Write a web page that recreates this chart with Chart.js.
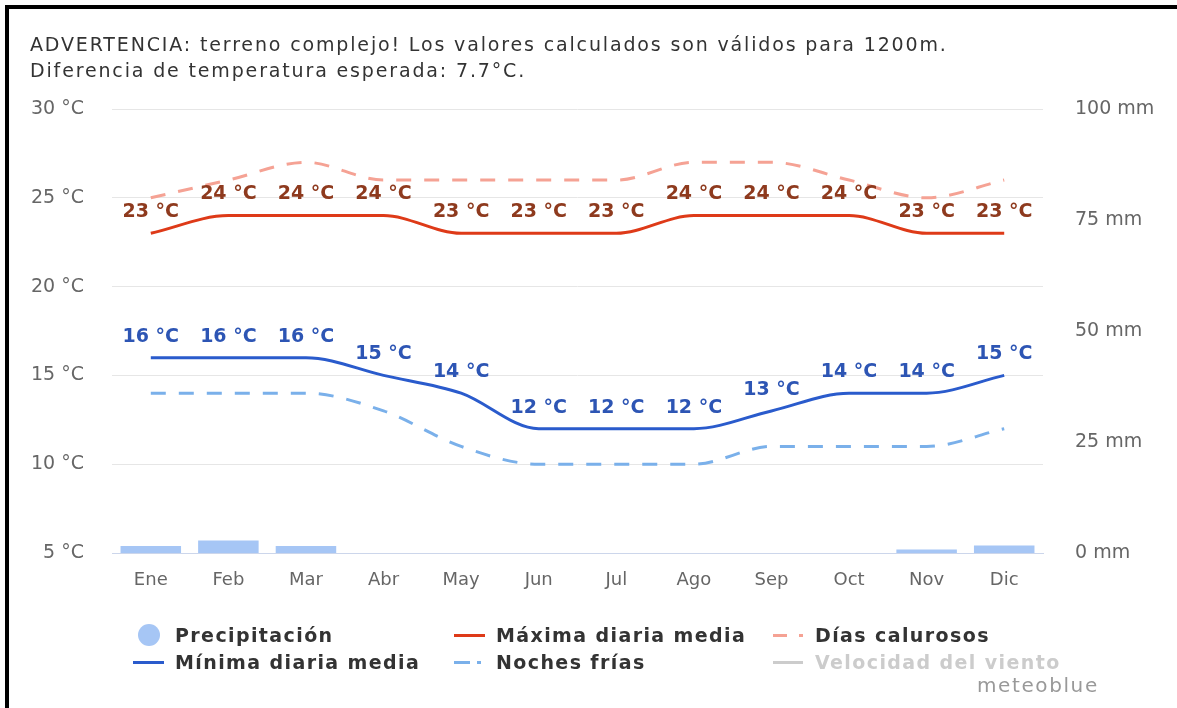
<!DOCTYPE html>
<html>
<head>
<meta charset="utf-8">
<script src="https://cdn.jsdelivr.net/npm/chart.js@4.4.0/dist/chart.umd.min.js"></script>
<style>
body { margin: 0; background: #fff; font-family: "DejaVu Sans", sans-serif; }
#wrap { position: relative; width: 1177px; height: 708px; overflow: hidden; }
#chart { position: absolute; left: 0; top: 0; }
#frame { position: absolute; left: 5px; top: 5px; width: 1300px; height: 900px;
  border-left: 4px solid #000; border-top: 4px solid #000; pointer-events: none; }
#title { position: absolute; left: 30px; top: 31px; color: #333; font-size: 19px;
  line-height: 26px; letter-spacing: 1.85px; white-space: nowrap; }
.lg { position: absolute; font-size: 19px; font-weight: bold; color: #333; white-space: nowrap;
  line-height: 22px; letter-spacing: 1.4px; }
.sym { position: absolute; }
#credit { position: absolute; left: 977px; top: 673px; font-size: 20px; color: #999; letter-spacing: 1.6px; }
</style>
</head>
<body>
<div id="wrap">
  <canvas id="chart" width="1177" height="708"></canvas>
  <div id="title">ADVERTENCIA: terreno complejo! Los valores calculados son válidos para 1200m.<br>Diferencia de temperatura esperada: 7.7°C.</div>

  <div class="sym" style="left:138px;top:624px;width:22px;height:22px;border-radius:50%;background:#a6c6f5"></div>
  <div class="lg" style="left:175px;top:624px">Precipitación</div>
  <div class="sym" style="left:133px;top:661px;width:31px;height:3px;background:#2a5bcc"></div>
  <div class="lg" style="left:175px;top:651px">Mínima diaria media</div>

  <div class="sym" style="left:454px;top:634px;width:31px;height:3px;background:#de3a18"></div>
  <div class="lg" style="left:496px;top:624px">Máxima diaria media</div>
  <div class="sym" style="left:454px;top:661px;width:16px;height:3px;background:#7ab0ea"></div>
  <div class="sym" style="left:477px;top:661px;width:4px;height:3px;background:#7ab0ea"></div>
  <div class="lg" style="left:496px;top:651px">Noches frías</div>

  <div class="sym" style="left:773px;top:634px;width:14px;height:3px;background:#f5a294"></div>
  <div class="sym" style="left:799px;top:634px;width:4px;height:3px;background:#f5a294"></div>
  <div class="lg" style="left:815px;top:624px">Días calurosos</div>
  <div class="sym" style="left:773px;top:661px;width:30px;height:3px;background:#cccccc"></div>
  <div class="lg" style="left:815px;top:651px;color:#cccccc">Velocidad del viento</div>
  <div id="credit">meteoblue</div>

  <div id="frame"></div>
</div>
<script>
// months
const months = ['Ene', 'Feb', 'Mar', 'Abr', 'May', 'Jun', 'Jul', 'Ago', 'Sep', 'Oct', 'Nov', 'Dic'];

// temperatures, °C
const maxMedia = [23, 24, 24, 24, 23, 23, 23, 24, 24, 24, 23, 23];
const minMedia = [16, 16, 16, 15, 14, 12, 12, 12, 13, 14, 14, 15];
const diasCalurosos = [25, 26, 27, 26, 26, 26, 26, 27, 27, 26, 25, 26];
const nochesFrias = [14, 14, 14, 13, 11, 10, 10, 10, 11, 11, 11, 12];

// precipitation, mm
const precipitacion = [1.6, 2.8, 1.6, 0, 0, 0, 0, 0, 0, 0, 0.8, 1.7];

// axis ticks
const tempTicks = [5, 10, 15, 20, 25, 30];
const mmTicks = [0, 25, 50, 75, 100];

const FONT = '"DejaVu Sans", sans-serif';

// draws "23 °C" style labels above the points
const pointLabels = {
  id: 'pointLabels',
  afterDatasetsDraw(chart) {
    const ctx = chart.ctx;
    chart.data.datasets.forEach((ds, i) => {
      if (!ds.labelColor) return;
      const meta = chart.getDatasetMeta(i);
      ctx.save();
      ctx.font = 'bold 19px ' + FONT;
      ctx.fillStyle = ds.labelColor;
      ctx.textAlign = 'center';
      ctx.textBaseline = 'middle';
      meta.data.forEach((pt, j) => {
        ctx.fillText(ds.data[j] + ' °C', pt.x, pt.y - 21);
      });
      ctx.restore();
    });
  }
};

new Chart(document.getElementById('chart'), {
  data: {
    labels: months,
    datasets: [
      {
        type: 'line', label: 'Máxima diaria media', data: maxMedia, yAxisID: 'y',
        borderColor: '#de3a18', borderWidth: 3, pointRadius: 0,
        cubicInterpolationMode: 'monotone', labelColor: '#8e3a1e', order: 1
      },
      {
        type: 'line', label: 'Mínima diaria media', data: minMedia, yAxisID: 'y',
        borderColor: '#2a5bcc', borderWidth: 3, pointRadius: 0,
        cubicInterpolationMode: 'monotone', labelColor: '#2d55b4', order: 2
      },
      {
        type: 'line', label: 'Días calurosos', data: diasCalurosos, yAxisID: 'y',
        borderColor: '#f5a294', borderWidth: 3, borderDash: [15, 13], pointRadius: 0,
        cubicInterpolationMode: 'monotone', order: 3
      },
      {
        type: 'line', label: 'Noches frías', data: nochesFrias, yAxisID: 'y',
        borderColor: '#7ab0ea', borderWidth: 3, borderDash: [15, 13], pointRadius: 0,
        cubicInterpolationMode: 'monotone', order: 4
      },
      {
        type: 'bar', label: 'Precipitación', data: precipitacion, yAxisID: 'y1',
        backgroundColor: '#a6c6f5', barPercentage: 0.78, categoryPercentage: 1, order: 5
      }
    ]
  },
  options: {
    responsive: false,
    animation: false,
    layout: { padding: { top: 109, bottom: 115, left: 0, right: 0 } },
    plugins: {
      legend: { display: false },
      tooltip: { enabled: false }
    },
    scales: {
      x: {
        grid: { display: false, drawTicks: false },
        border: { display: true, color: '#ccd6eb', width: 1 },
        ticks: { color: '#666', font: { family: FONT, size: 18 }, padding: 17, maxRotation: 0 },
        afterFit(s) { s.height = 40; }
      },
      y: {
        position: 'left', min: 5, max: 30,
        afterBuildTicks(s) { s.ticks = tempTicks.map(v => ({ value: v })); },
        grid: { color: '#e6e6e6', drawTicks: false },
        border: { display: false },
        ticks: { color: '#666', font: { family: FONT, size: 19 }, padding: 28,
          callback: v => v + ' °C' },
        afterFit(s) { s.width = 112; }
      },
      y1: {
        position: 'right', min: 0, max: 100,
        afterBuildTicks(s) { s.ticks = mmTicks.map(v => ({ value: v })); },
        grid: { display: false, drawTicks: false },
        border: { display: false },
        ticks: { color: '#666', font: { family: FONT, size: 19 }, padding: 32,
          callback: v => v + ' mm' },
        afterFit(s) { s.width = 134; }
      }
    }
  },
  plugins: [pointLabels]
});
</script>
</body>
</html>
